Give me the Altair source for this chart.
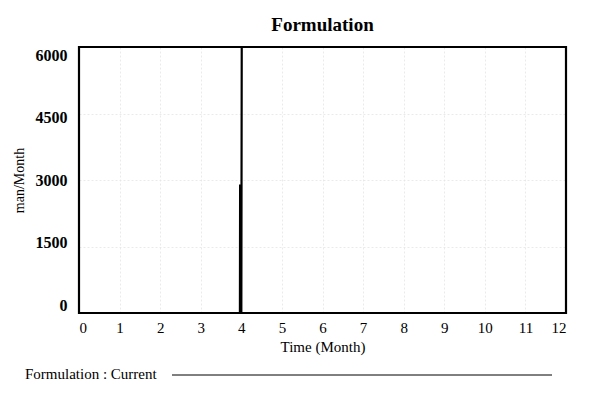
import altair as alt
import pandas as pd

# Data
time = [0, 3.965, 3.97, 3.975, 4.0, 4.01, 12]
formulation = [0, 0, 2900, 0, 0, 6000, 6000]
x_ticks = list(range(0, 13))
y_ticks = [0, 1500, 3000, 4500, 6000]

df = pd.DataFrame({"Time": time, "Formulation": formulation})

FONT = "Liberation Serif"
W, H = 487, 266

base = alt.Chart(df)

line = base.mark_line(color="black", strokeWidth=2.2, clip=True).encode(
    x=alt.X("Time:Q",
            scale=alt.Scale(domain=[0, 12], nice=False),
            axis=alt.Axis(values=x_ticks, title="Time (Month)", grid=True,
                          gridColor="#e4e4e4", gridDash=[2, 2], gridWidth=0.8,
                          ticks=False, domain=False, labelFont=FONT, labelFontSize=15,
                          labelColor="black", labelPadding=7, titleFont=FONT,
                          titleFontSize=15, titleFontWeight="normal", titleColor="black",
                          titlePadding=4)),
    y=alt.Y("Formulation:Q",
            scale=alt.Scale(domain=[0, 6000], nice=False),
            axis=alt.Axis(values=y_ticks, format="d", title="man/Month", grid=True,
                          gridColor="#e4e4e4", gridDash=[2, 2], gridWidth=0.8,
                          ticks=False, domain=False, labelFont=FONT, labelFontSize=16,
                          labelFontWeight="bold", labelColor="black", labelPadding=12,
                          labelOffset={"expr": "(datum.value - 3000) / 3000 * 8"},
                          titleFont=FONT, titleFontSize=14, titleFontWeight="normal",
                          titleColor="black", titlePadding=9)),
    order="order:Q",
).transform_window(order="row_number()")

frame_df = pd.DataFrame({"k": [0]})
frame = alt.Chart(frame_df).mark_rect(fill=None, stroke="black", strokeWidth=2.2).encode(
    x=alt.value(0), x2=alt.value(W), y=alt.value(0), y2=alt.value(H)
)

legend_df = pd.DataFrame({"label": ["Formulation : Current"]})
legend_text = alt.Chart(legend_df).mark_text(
    font=FONT, fontSize=15, align="left", baseline="middle", color="black"
).encode(text="label:N", x=alt.value(-54), y=alt.value(327))

legend_rule = alt.Chart(legend_df).mark_rule(color="black", strokeWidth=1).encode(
    x=alt.value(93), x2=alt.value(473), y=alt.value(328)
)

chart = alt.layer(line, frame, legend_text, legend_rule).properties(
    width=W, height=H,
    title=alt.TitleParams("Formulation", font=FONT, fontSize=19, fontWeight="bold",
                          color="black", offset=11),
    autosize=alt.AutoSizeParams(type="none"),
    padding={"left": 71, "top": 39, "right": 30, "bottom": 75},
).configure_view(stroke=None).configure(background="white")

chart.save("out.html", embed_options={"renderer": "svg", "actions": False})
